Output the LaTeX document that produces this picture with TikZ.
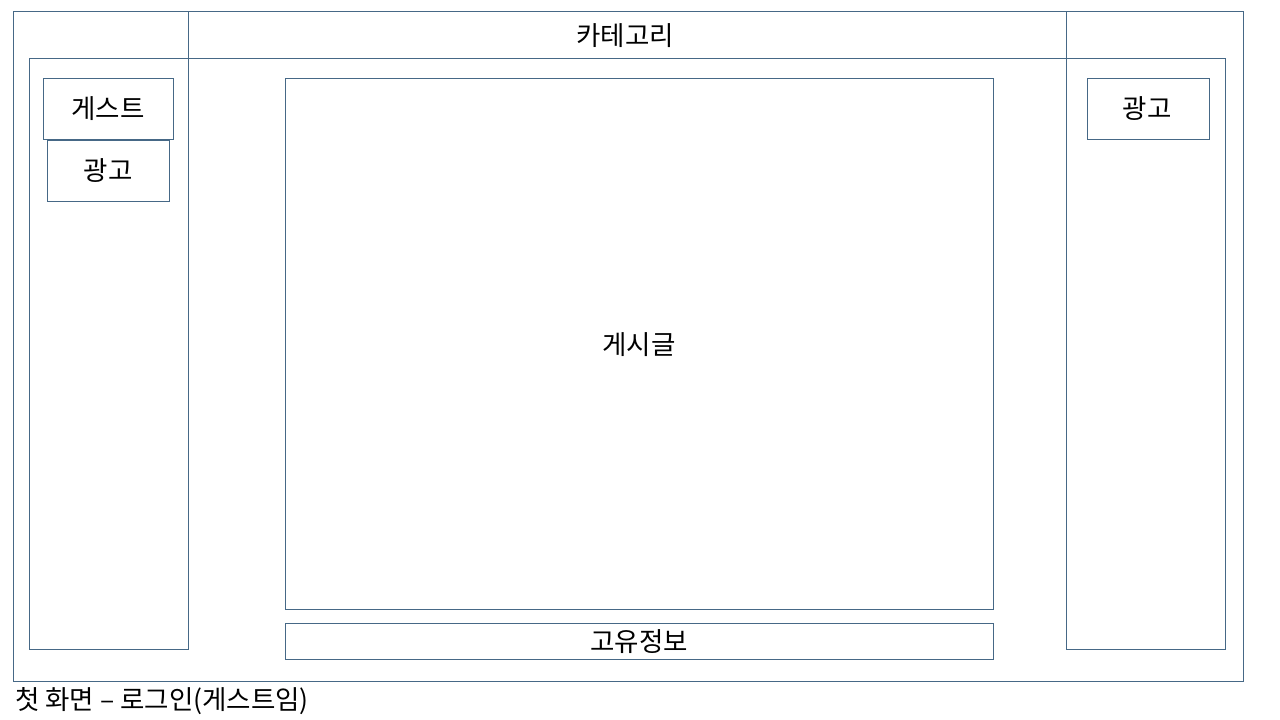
\documentclass[tikz,border=0pt]{standalone}
\usepackage{fontspec}
\setmainfont{Noto Sans CJK KR}
\definecolor{frame}{RGB}{70,104,134}
\tikzset{
  box/.style={draw=frame, line width=0.9pt, fill=none},
  lbl/.style={font=\fontsize{26.5}{30}\selectfont, text=black, inner sep=0pt}
}
\begin{document}
\begin{tikzpicture}[x=1pt,y=-1pt]
\useasboundingbox (0,0) rectangle (1280,720);
\fill[white] (0,0) rectangle (1280,720);
% outer frame
\draw[box] (13,11) rectangle (1243,681);
% category bar
\draw[box] (188,11) rectangle (1066,58);
\node[lbl] (cat) at (625,36) {카테고리};
% left column
\draw[box] (29,58) rectangle (188,649);
\draw[box] (43,78) rectangle (173,139);
\node[lbl] (guest) at (108,109) {게스트};
\draw[box] (47,140) rectangle (169,201);
\node[lbl] (adl) at (108,171) {광고};
% right column
\draw[box] (1066,58) rectangle (1225,649);
\draw[box] (1087,78) rectangle (1209,139);
\node[lbl] (adr) at (1147,109) {광고};
% posts
\draw[box] (285,78) rectangle (993,609);
\node[lbl] (post) at (639,345) {게시글};
% unique info
\draw[box] (285,623) rectangle (993,659);
\node[lbl] (info) at (639,642) {고유정보};
% caption
\node[lbl, anchor=west] (cap) at (15,701) {첫 화면 – 로그인(게스트임)};
\end{tikzpicture}
\end{document}
